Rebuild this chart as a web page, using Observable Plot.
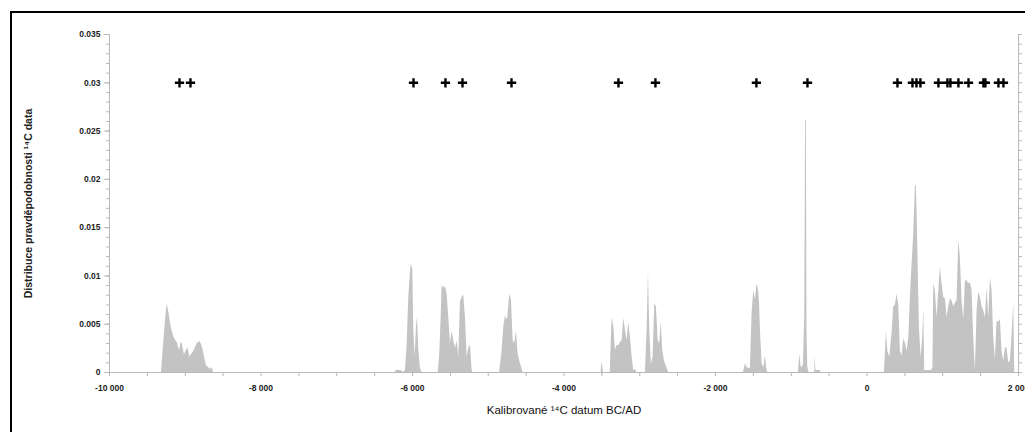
<!DOCTYPE html>
<html>
<head>
<meta charset="utf-8">
<script src="https://cdn.jsdelivr.net/npm/d3@7"></script>
<script src="https://cdn.jsdelivr.net/npm/@observablehq/plot@0.6"></script>
<style>
  body { margin: 0; background: #fff; }
  #wrap { position: relative; width: 1025px; height: 432px; overflow: hidden; }
  #frame { position: absolute; left: 10px; top: 11px; width: 1040px; height: 450px; border: 2px solid #000; pointer-events: none; }
</style>
</head>
<body>
<div id="wrap"><div id="frame"></div></div>
<script>
// Summed probability distribution of calibrated 14C dates: [year, density]
const clusterMesolithic = [[-9400,0],[-9314,0],[-9290,0.0025],[-9260,0.0055],[-9238,0.0071],[-9215,0.0062],[-9195,0.0051],[-9172,0.0043],[-9151,0.0037],[-9125,0.0033],[-9106,0.0031],[-9090,0.0026],[-9072,0.0023],[-9055,0.0031],[-9040,0.0030],[-9025,0.0024],[-9010,0.0018],[-8990,0.0022],[-8966,0.0026],[-8950,0.0020],[-8940,0.0016],[-8915,0.0019],[-8895,0.0021],[-8870,0.0025],[-8842,0.0030],[-8808,0.0032],[-8785,0.0029],[-8763,0.0023],[-8740,0.0014],[-8720,0.0007],[-8689,0.0005],[-8667,0.0003],[-8645,0.0005],[-8630,0.0001],[-8620,0]];
const clusterNeolithic = [[-6230,0],[-6212,0.0002],[-6150,0.0002],[-6120,0],[-6093,0.0002],[-6070,0.0030],[-6049,0.0078],[-6030,0.0100],[-6018,0.0112],[-5996,0.0107],[-5983,0.0044],[-5965,0.0017],[-5948,0.0047],[-5934,0.0057],[-5917,0.0023],[-5895,0.0004],[-5873,0],
  [-5660,0],[-5640,0.0020],[-5622,0.0057],[-5609,0.0090],[-5598,0.0088],[-5587,0.0089],[-5575,0.0086],[-5565,0.0090],[-5543,0.0081],[-5521,0.0057],[-5499,0.0030],[-5477,0.0043],[-5455,0.0033],[-5433,0.0025],[-5411,0.0033],[-5389,0.0016],[-5367,0.0073],[-5345,0.0078],[-5323,0.0080],[-5301,0.0057],[-5279,0.0016],[-5257,0.0025],[-5235,0.0028],[-5213,0.0002],[-5200,0],
  [-4850,0],[-4820,0.0020],[-4795,0.0047],[-4773,0.0059],[-4758,0.0055],[-4743,0.0056],[-4716,0.0081],[-4694,0.0075],[-4671,0.0033],[-4650,0.0030],[-4628,0.0043],[-4606,0.0019],[-4575,0.0009],[-4540,0]];
const clusterEneolithic = [[-3510,0],[-3497,0.0012],[-3480,0],
  [-3390,0],[-3365,0.0057],[-3343,0.0047],[-3321,0.0023],[-3299,0.0028],[-3277,0.0028],[-3255,0.0031],[-3233,0.0033],[-3211,0.0056],[-3189,0.0044],[-3167,0.0033],[-3145,0.0052],[-3123,0.0036],[-3101,0.0016],[-3079,0.0002],[-3057,0.0003],[-3035,0],
  [-2925,0],[-2903,0.0044],[-2885,0.0104],[-2868,0.0044],[-2846,0.0008],[-2824,0.0016],[-2802,0.0071],[-2780,0.0068],[-2757,0.0033],[-2736,0.0030],[-2718,0.0052],[-2696,0.0023],[-2674,0.0012],[-2647,0.0006],[-2617,0]];
const clusterBronze = [[-1630,0],[-1605,0.0009],[-1583,0.0005],[-1540,0.0004],[-1517,0.0061],[-1495,0.0085],[-1473,0.0075],[-1451,0.0092],[-1429,0.0084],[-1416,0.0067],[-1407,0.0044],[-1385,0.0009],[-1363,0.0005],[-1341,0.0017],[-1325,0.0005],[-1310,0],
  [-905,0],[-887,0.0019],[-870,0.0006],[-856,0.0005],[-840,0.0008],[-822,0.0060],[-810,0.0261],[-800,0.0261],[-792,0.0040],[-781,0.0005],[-765,0],[-690,0],[-685,0.0017],[-675,0.0002],[-620,0.0002],[-605,0]];
const clusterAD = [[230,0],[257,0.0043],[274,0.0022],[301,0.0016],[333,0.0043],[353,0.0068],[375,0.0070],[397,0.0081],[419,0.0070],[441,0.0022],[463,0.0017],[485,0.0035],[507,0.0030],[530,0.0022],[552,0.0036],[573,0.0078],[595,0.0112],[617,0.0143],[639,0.0193],[652,0.0193],[670,0.0133],[692,0.0046],[714,0.0016],[736,0.0036],[749,0.0066],[762,0.0002],[850,0.0002],[870,0.0005],[881,0.0092],[903,0.0084],[925,0.0057],[947,0.0084],[969,0.0109],[991,0.0092],[1013,0.0078],[1035,0.0076],[1057,0.0057],[1079,0.0068],[1101,0.0076],[1123,0.0074],[1145,0.0068],[1167,0.0072],[1189,0.0074],[1211,0.0137],[1233,0.0119],[1255,0.0074],[1277,0.0055],[1299,0.0095],[1321,0.0095],[1343,0.0092],[1365,0.0093],[1387,0.0085],[1409,0.0036],[1431,0.0002],[1453,0.0064],[1475,0.0083],[1497,0.0078],[1519,0.0068],[1541,0.0064],[1563,0.0057],[1585,0.0088],[1607,0.0057],[1629,0.0098],[1651,0.0085],[1673,0.0036],[1695,0.0014],[1717,0.0053],[1739,0.0052],[1761,0.0055],[1783,0.0022],[1805,0.0012],[1827,0.0026],[1849,0.0025],[1871,0.0010],[1893,0.0012],[1915,0.0038],[1937,0.0072],[1950,0]];

// Individual dated samples (crosses at 0.03)
const sampleYears = [-9076,-8931,-5987,-5565,-5340,-4693,-3281,-2793,-1460,-786,402,600,653,705,943,1062,1101,1207,1340,1537,1563,1735,1801];
const sampleLevel = 0.03;

const xMajorTicks = [-10000,-8000,-6000,-4000,-2000,0,2000];
const yMajorTicks = [0,0.005,0.01,0.015,0.02,0.025,0.03,0.035];
const xTitle = "Kalibrované ¹⁴C datum BC/AD";
const yTitle = "Distribuce pravděpodobnosti ¹⁴C data";

const density = [...clusterMesolithic, ...clusterNeolithic, ...clusterEneolithic, ...clusterBronze, ...clusterAD]
  .map(([year, value]) => ({year, value}));
const xMinorTicks = d3.range(-10000, 2001, 500);
const yMinorTicks = d3.range(0, 35.5, 1).map(d => d / 1000);
const fmtX = d => d === 0 ? "0" : (d < 0 ? "-" : "") + d3.format(",")(Math.abs(d)).replace(/,/g, " ");
const fmtY = d => d === 0 ? "0" : String(+d.toFixed(3));
const axisGrey = "#b8b8b8";

const chart = Plot.plot({
  width: 1025,
  height: 432,
  marginLeft: 109,
  marginRight: 7,
  marginTop: 34,
  marginBottom: 60,
  style: {fontFamily: "'Liberation Sans', Arial, sans-serif", background: "transparent", color: "#222"},
  x: {domain: [-10000, 2000]},
  y: {domain: [0, 0.035]},
  marks: [
    Plot.areaY(density, {x: "year", y: "value", fill: "#c3c3c3", curve: "linear"}),
    Plot.ruleX([-10000, 2000], {stroke: axisGrey, strokeWidth: 1}),
    Plot.ruleY([0], {stroke: axisGrey, strokeWidth: 1}),
    Plot.axisY({ticks: yMinorTicks, tickSize: 3, tickFormat: null, text: null, stroke: axisGrey, label: null}),
    Plot.axisY({ticks: yMajorTicks, tickSize: 5, tickPadding: 4, tickFormat: fmtY, fontSize: 8.5, fontWeight: "bold", stroke: axisGrey, fill: "#222", label: null}),
    Plot.axisY({anchor: "right", ticks: yMinorTicks, tickSize: 3, text: null, stroke: axisGrey, label: null}),
    Plot.axisX({ticks: xMinorTicks, tickSize: 4, text: null, stroke: axisGrey, label: null}),
    Plot.axisX({ticks: xMajorTicks, tickSize: 0, tickPadding: 12, tickFormat: fmtX, fontSize: 8.5, fontWeight: "bold", fill: "#222", label: null}),
    Plot.dot(sampleYears, {x: d => d, y: () => sampleLevel, symbol: "plus", r: 3.1, stroke: "#000", strokeWidth: 2.4}),
    Plot.text([xTitle], {frameAnchor: "bottom", dy: 41, fontSize: 11.5, fill: "#111"}),
    Plot.text([yTitle], {frameAnchor: "left", textAnchor: "middle", dx: -81, rotate: -90, fontSize: 10.5, fontWeight: "bold", fill: "#222"})
  ]
});
document.getElementById("wrap").prepend(chart);
</script>
</body>
</html>
